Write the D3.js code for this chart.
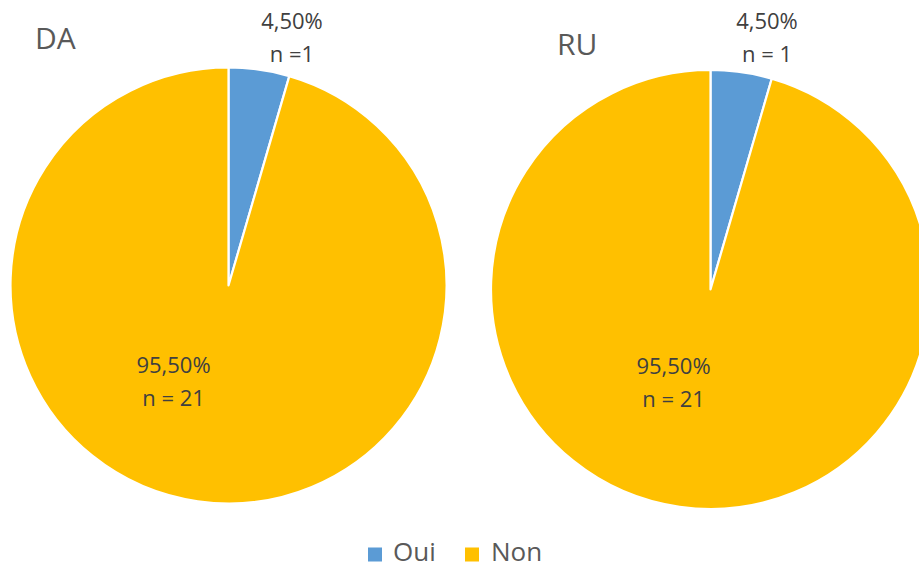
<!DOCTYPE html>
<html>
<head>
<meta charset="utf-8">
<script src="https://cdn.jsdelivr.net/npm/d3@7"></script>
<style>
  html, body { margin: 0; padding: 0; background: #fff; }
  svg { display: block; font-family: "Open Sans", "Noto Sans", sans-serif; }
</style>
</head>
<body>
<svg id="chart" width="919" height="568"></svg>
<script>
// ---- data ----
const categories = ["Oui", "Non"];
const groups = ["DA", "RU"];
const percentDA = [4.5, 95.5];
const percentRU = [4.5, 95.5];
const countDA = ["n =1", "n = 21"];
const countRU = ["n = 1", "n = 21"];
const percentLabels = ["4,50%", "95,50%"];
const colors = ["#5B9BD5", "#FFC000"];

// ---- layout ----
const svg = d3.select("#chart");
const pies = [
  { name: groups[0], values: percentDA, counts: countDA, cx: 228.5, cy: 285.5, r: 218,
    title: [35, 49], small: [63.5, -257], big: [-55, 87] },
  { name: groups[1], values: percentRU, counts: countRU, cx: 710.5, cy: 289.5, r: 219.5,
    title: [557, 55], small: [56.5, -261], big: [-37, 84] }
];

const color = d3.scaleOrdinal().domain(categories).range(colors);
const pie = d3.pie().sort(null).value(d => d.value);

pies.forEach(p => {
  const data = categories.map((c, i) => ({ cat: c, value: p.values[i], count: p.counts[i], pct: percentLabels[i] }));
  const arcs = pie(data);
  const arc = d3.arc().innerRadius(0).outerRadius(p.r);
  const g = svg.append("g").attr("transform", `translate(${p.cx},${p.cy})`);

  g.selectAll("path")
    .data(arcs)
    .join("path")
    .attr("d", arc)
    .attr("fill", d => color(d.data.cat))
    .attr("stroke", "#fff")
    .attr("stroke-width", 2.2)
    .attr("stroke-linejoin", "round");

  // labels
  arcs.forEach((a, i) => {
    const off = i === 0 ? p.small : p.big;
    const t = g.append("text")
      .attr("text-anchor", "middle")
      .attr("fill", "#404040")
      .style("font-size", "22px");
    t.append("tspan").attr("x", off[0]).attr("y", off[1]).text(a.data.pct);
    t.append("tspan").attr("x", off[0]).attr("y", off[1] + 33.5).text(a.data.count);
  });

  svg.append("text")
    .attr("x", p.title[0])
    .attr("y", p.title[1])
    .attr("fill", "#595959")
    .style("font-size", "30px")
    .text(p.name);
});

// legend
const legendItems = [
  { cat: categories[0], sx: 368, tx: 393 },
  { cat: categories[1], sx: 465, tx: 491 }
];
const lg = svg.append("g");
legendItems.forEach(item => {
  lg.append("rect")
    .attr("x", item.sx).attr("y", 547.5)
    .attr("width", 14).attr("height", 14)
    .attr("fill", color(item.cat));
  lg.append("text")
    .attr("x", item.tx).attr("y", 561)
    .attr("fill", "#595959")
    .style("font-size", "26px")
    .text(item.cat);
});
</script>
</body>
</html>
